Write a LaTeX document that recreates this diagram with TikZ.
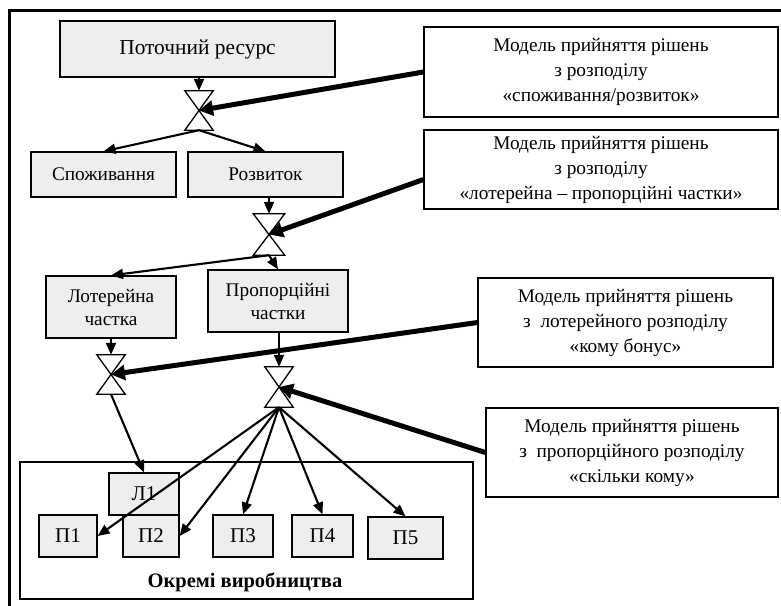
\documentclass[tikz,border=0pt]{standalone}
\usepackage{fontspec}
\setmainfont{Liberation Serif}
\usetikzlibrary{arrows.meta}
\definecolor{boxgray}{RGB}{238,238,238}
\tikzset{block/.style={
        draw, line width=1.2pt, fill=boxgray, inner sep=0pt, align=center,
        font=\fontsize{19.3}{23}\selectfont
    },
    small/.style={block, minimum height=42pt, font=\fontsize{21}{24}\selectfont},
    model/.style={
        draw, line width=1.2pt, fill=white, inner sep=0pt, align=center,
        font=\fontsize{19.3}{25}\selectfont
    },
    valve/.style={inner sep=0pt, minimum width=28pt, minimum height=39pt},
    hourglass/.style={line width=1.3pt, fill=white},
    flow/.style={line width=2.1pt, -{Triangle[length=12pt,width=10pt]}},
    control/.style={line width=5pt, -{Triangle[length=14pt,width=15pt]}}
}

\begin{document}
\begin{tikzpicture}[x=1pt,y=-1pt]
      \useasboundingbox (0,0) rectangle (781,605);
      \draw[line width=3pt] (9,615) -- (9,10) -- (790,10);

      \node[block, minimum width=275pt, minimum height=56pt,
            font=\fontsize{21.4}{24}\selectfont] (Res) at (197.5,49) {Поточний ресурс};
      \node[block, minimum width=145pt, minimum height=45pt] (Spoz) at (103.5,174.5) {Споживання};
      \node[block, minimum width=155pt, minimum height=45pt] (Rozv) at (265.5,174.5) {Розвиток};
      \node[block, minimum width=130pt, minimum height=62pt] (Lot) at (111,307) {Лотерейна\\частка};
      \node[block, minimum width=140pt, minimum height=62pt] (Prop) at (278,301) {Пропорційні\\частки};

      \node[model, minimum width=354pt, minimum height=90pt] (M1) at (601,72)
            {Модель прийняття рішень\\з розподілу\\«споживання/розвиток»};
      \node[model, minimum width=354pt, minimum height=79pt] (M2) at (601,169.5)
            {Модель прийняття рішень\\з розподілу\\«лотерейна – пропорційні частки»};
      \node[model, minimum width=295pt, minimum height=89pt] (M3) at (625.5,322.5)
            {Модель прийняття рішень\\з\ \ лотерейного розподілу\\«кому бонус»};
      \node[model, minimum width=292pt, minimum height=89pt] (M4) at (632,452.5)
            {Модель прийняття рішень\\з\ \ пропорційного розподілу\\«скільки кому»};

      % okremi vyrobnytstva
      \node[draw, line width=1.2pt, minimum width=453pt, minimum height=137pt] (Vyr) at (246.5,530.5) {};
      \node[font=\fontsize{20.5}{24}\selectfont\bfseries] (VyrT) at (245,582) {Окремі виробництва};
      \node[small, minimum width=70pt] (L1) at (144,494) {Л1};
      \node[small, minimum width=58pt] (P1) at (68,536) {П1};
      \node[small, minimum width=56pt] (P2) at (151,536) {П2};
      \node[small, minimum width=60pt] (P3) at (243,536) {П3};
      \node[small, minimum width=61pt] (P4) at (322.5,536) {П4};
      \node[small, minimum width=75pt] (P5) at (405.5,538) {П5};

      \node[valve] (V1) at (199,110.5) {};
      \node[valve, minimum width=31pt, minimum height=41pt] (V2) at (269,234.5) {};
      \node[valve] (V3) at (111,374.5) {};
      \node[valve, minimum height=40pt] (V4) at (279,387) {};
      \foreach \v in {V1,V2,V3,V4}
        \draw[hourglass] (\v.north west) -- (\v.north east) -- (\v.south west) -- (\v.south east) -- cycle;

      \draw[flow] (Res.south -| V1) -- (V1.north);
      \draw[flow] (V1.south) -- (Spoz.north);
      \draw[flow] (V1.south) -- (Rozv.north);
      \draw[flow] (Rozv.south -| V2) -- (V2.north);
      \draw[flow] (V2.south) -- (Lot.north);
      \draw[flow] (V2.south) -- (Prop.north);
      \draw[flow] (Lot.south) -- (V3.north);
      \draw[flow] (Prop.south -| V4) -- (V4.north);
      \draw[flow] (V3.south) -- (L1.north);
      \draw[flow] (V4.south) -- (P1.east);
      \draw[flow] (V4.south) -- (P2.east);
      \draw[flow] (V4.south) -- (P3.north);
      \draw[flow] (V4.south) -- (P4.north);
      \draw[flow] (V4.south) -- (P5.north);

      \draw[control] (M1.west) -- (V1.center);
      \draw[control] ([yshift=-10pt]M2.west) -- (V2.center);
      \draw[control] (M3.west) -- (V3.center);
      \draw[control] (M4.west) -- (V4.center);
    \end{tikzpicture}
\end{document}
